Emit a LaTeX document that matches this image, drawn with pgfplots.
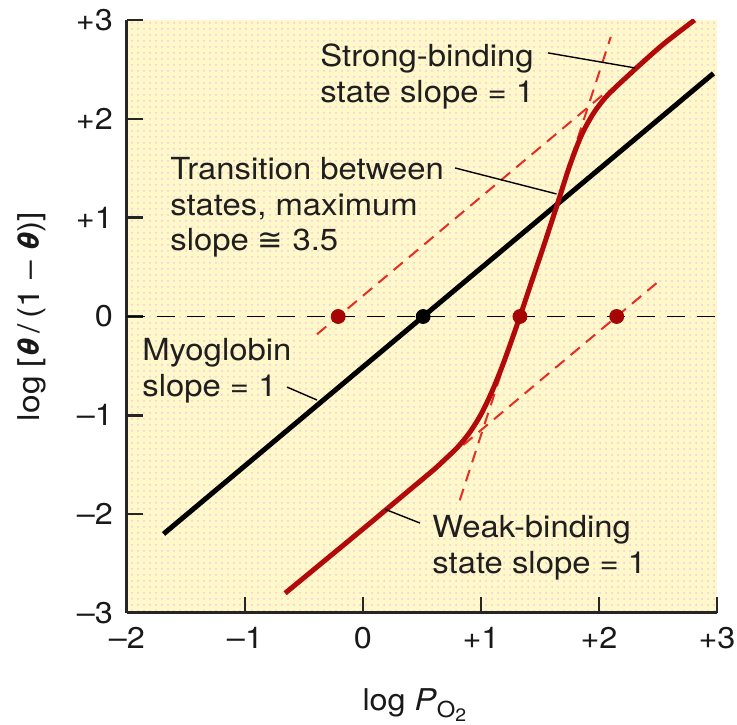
\documentclass[border=0pt]{standalone}
\usepackage{fontspec}
\setmainfont{TeX Gyre Heros}[FakeStretch=1.08]
\newfontfamily\symfont{DejaVu Sans}
\usepackage{graphicx}
\usepackage{pgfplots}
\pgfplotsset{compat=1.18}
\usetikzlibrary{patterns}

\definecolor{bgyellow}{RGB}{255,248,202}
\definecolor{dotpink}{RGB}{247,200,218}
\definecolor{curvered}{RGB}{178,10,10}
\definecolor{dashred}{RGB}{228,45,35}
\definecolor{dotred}{RGB}{165,5,5}

\begin{document}
\begin{tikzpicture}
\begin{axis}[
    name=ax,
    scale only axis,
    width=295pt, height=296.5pt,
    xmin=-2, xmax=3, ymin=-3, ymax=3,
    axis x line*=bottom, axis y line*=left,
    axis line style={line width=1.5pt, color=black!85},
    tick align=inside, tick pos=left,
    major tick length=8pt,
    tick style={line width=1.2pt, color=black!85},
    xtick={-2,-1,0,1,2,3},
    xticklabels={–2,–1,0,+1,+2,+3},
    ytick={-3,-2,-1,0,1,2,3},
    yticklabels={–3,–2,–1,0,+1,+2,+3},
    ticklabel style={font=\fontsize{15}{17}\selectfont, text=black!90},
    yticklabel style={xshift=-3.5pt},
    xticklabel style={yshift=-3.8pt},
    axis background/.style={fill=bgyellow, postaction={pattern=dots, pattern color=dotpink}},
    xlabel={log \textit{P}\raisebox{-0.45ex}{\fontsize{11}{12}\selectfont O\raisebox{-0.35ex}{\fontsize{9}{10}\selectfont 2}}},
    xlabel style={font=\fontsize{15}{17}\selectfont, text=black!90, at={(axis description cs:0.487,-0.1636)}, anchor=base},
    ylabel={\resizebox{104.5pt}{\height}{log [\textbf{\textit{θ}}\,/\,(1 – \textbf{\textit{θ}})]}},
    ylabel style={font=\fontsize{15}{17}\selectfont, text=black!90, at={(axis description cs:-0.161,0.5)}, anchor=center},
]
% zero line
\addplot[black, line width=0.9pt, dash pattern=on 9pt off 6pt] coordinates {(-2,0) (3,0)};

% tangent lines
\addplot[dashred, line width=1pt, dash pattern=on 6pt off 4pt] coordinates {(-0.39,-0.18) (2.08,2.29)};
\addplot[dashred, line width=1pt, dash pattern=on 6pt off 4pt] coordinates {(0.85,-1.30) (2.53,0.38)};
\addplot[dashred, line width=1pt, dash pattern=on 6pt off 4pt] coordinates {(0.82,-1.86) (2.10,2.83)};

% myoglobin
\addplot[black, line width=2.5pt] coordinates {(-1.69,-2.20) (2.97,2.46)};

% hemoglobin
\addplot[curvered, line width=2.5pt, smooth] coordinates {
(-0.66,-2.80) (0.0,-2.15) (0.2,-1.95) (0.4,-1.75) (0.6,-1.55) (0.7,-1.44)
(0.8,-1.325) (0.9,-1.18) (1.0,-0.99) (1.1,-0.74) (1.2,-0.44) (1.33,0.0)
(1.42,0.32) (1.53,0.71) (1.64,1.11) (1.75,1.52) (1.85,1.83) (1.95,2.05)
(2.05,2.21) (2.15,2.33) (2.25,2.44) (2.35,2.55) (2.55,2.76) (2.81,3.0)
};

% intercept dots
\addplot[only marks, mark=*, mark size=3.5pt, color=dotred] coordinates {(-0.21,0) (1.33,0) (2.15,0)};
\addplot[only marks, mark=*, mark size=3.5pt, color=black] coordinates {(0.51,0)};

% leaders
\draw[black, line width=0.7pt] (axis cs:1.568,2.667) -- (axis cs:2.305,2.515);
\draw[black, line width=0.7pt] (axis cs:0.78,1.503) -- (axis cs:1.64,1.24);
\draw[black, line width=0.7pt] (axis cs:-0.644,-0.714) -- (axis cs:-0.39,-0.845);
\draw[black, line width=0.7pt] (axis cs:0.483,-2.09) -- (axis cs:0.186,-1.95);

% annotations
\tikzset{ann/.style={anchor=north west, inner sep=0pt, align=left, font=\fontsize{15.2}{17.8}\selectfont, text=black!88}}
\node[ann] at (axis cs:-0.364,2.76) {Strong-binding\\state slope = 1};
\node[ann] at (axis cs:-1.636,1.614) {Transition between\\states, maximum\\slope {\symfont ≅} 3.5};
\node[ann] at (axis cs:-1.873,-0.218) {Myoglobin\\slope = 1};
\node[ann] at (axis cs:0.585,-2.01) {Weak-binding\\state slope = 1};
\end{axis}
\pgfresetboundingbox
\path ([shift={(-63.5pt,-56pt)}]ax.south west) rectangle ([shift={(10pt,10pt)}]ax.north east);
\end{tikzpicture}
\end{document}
